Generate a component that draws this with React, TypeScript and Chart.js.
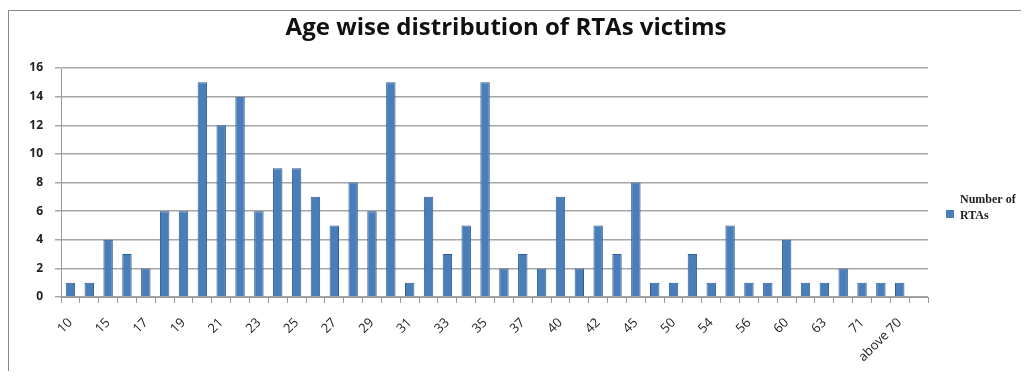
import React, { useEffect, useRef } from "react";
import { Chart, registerables } from "chart.js";

Chart.register(...registerables);

const TITLE = "Age wise distribution of RTAs victims";
const SERIES_NAME = ["Number of", "RTAs"];
const AGE_GROUPS = [
  "10", "14", "15", "16", "17", "18", "19", "20", "21", "22",
  "23", "24", "25", "26", "27", "28", "29", "30", "31", "32",
  "33", "34", "35", "36", "37", "38", "40", "41", "42", "43",
  "45", "48", "50", "52", "54", "55", "56", "58", "60", "62",
  "63", "65", "71", "75", "above 70", "",
];
const RTA_COUNTS = [
  1, 1, 4, 3, 2, 6, 6, 15, 12, 14,
  6, 9, 9, 7, 5, 8, 6, 15, 1, 7,
  3, 5, 15, 2, 3, 2, 7, 2, 5, 3,
  8, 1, 1, 3, 1, 5, 1, 1, 4, 1,
  1, 2, 1, 1, 1, null,
];
const Y_TICKS = [0, 2, 4, 6, 8, 10, 12, 14, 16];

const BAR_COLOR = "#4a7ebb";
const BAR_EDGE = "#2f5d93";

const overlayPlugin = {
  id: "overlay",
  afterDraw(chart: any) {
    const ctx = chart.ctx as CanvasRenderingContext2D;
    const area = chart.chartArea;
    ctx.save();
    // title
    ctx.fillStyle = "#111";
    ctx.font = "bold 24px 'Open Sans'";
    ctx.textAlign = "center";
    ctx.textBaseline = "alphabetic";
    ctx.fillText(TITLE, 497, 24);
    // legend
    const lx = area.right + 18;
    const ly = 199;
    ctx.fillStyle = BAR_COLOR;
    ctx.fillRect(lx, ly, 8, 8);
    ctx.fillStyle = "#222";
    ctx.font = "bold 12px 'Liberation Serif'";
    ctx.textAlign = "left";
    ctx.fillText(SERIES_NAME[0], lx + 14, 192);
    ctx.fillText(SERIES_NAME[1], lx + 14, 208);
    ctx.restore();
  },
};

export default function App() {
  const ref = useRef<HTMLCanvasElement | null>(null);

  useEffect(() => {
    if (!ref.current) return;
    const chart = new Chart(ref.current, {
      type: "bar",
      data: {
        labels: AGE_GROUPS,
        datasets: [
          {
            label: SERIES_NAME.join(" "),
            data: RTA_COUNTS,
            backgroundColor: BAR_COLOR,
            borderColor: BAR_EDGE,
            borderWidth: 1,
            categoryPercentage: 1,
            barPercentage: 0.5,
          },
        ],
      },
      options: {
        animation: false,
        responsive: true,
        maintainAspectRatio: false,
        layout: { padding: { top: 57, right: 93, left: 0, bottom: 0 } },
        plugins: {
          legend: { display: false },
          title: { display: false },
          tooltip: { enabled: false },
        },
        scales: {
          x: {
            afterFit: (s: any) => {
              s.height = 74;
            },
            grid: {
              offset: true,
              drawOnChartArea: false,
              drawTicks: true,
              tickLength: 6,
              color: "#999",
            },
            border: { display: true, color: "#999", width: 1 },
            ticks: {
              autoSkip: false,
              maxRotation: 45,
              minRotation: 45,
              padding: 12,
              color: "#222",
              font: { family: "'Open Sans'", size: 13 },
              callback: (_v: any, i: number) => (i % 2 === 0 ? AGE_GROUPS[i] : ""),
            },
          },
          y: {
            min: 0,
            max: 16,
            afterFit: (s: any) => {
              s.width = 52;
            },
            afterBuildTicks: (s: any) => {
              s.ticks = Y_TICKS.map((v) => ({ value: v }));
            },
            grid: {
              color: "#a6a6a6",
              lineWidth: 1.5,
              drawTicks: true,
              tickLength: 6,
            },
            border: { display: true, color: "#999", width: 1 },
            ticks: {
              padding: 12,
              color: "#222",
              font: { family: "'Open Sans'", size: 12, weight: "bold" },
            },
          },
        },
      },
      plugins: [overlayPlugin],
    });
    return () => chart.destroy();
  }, []);

  return (
    <div
      style={{
        position: "relative",
        width: "1013px",
        height: "361px",
        borderLeft: "1px solid #888",
        borderTop: "1px solid #888",
        boxSizing: "border-box",
        marginTop: "2px",
      }}
    >
      <canvas ref={ref} />
    </div>
  );
}
